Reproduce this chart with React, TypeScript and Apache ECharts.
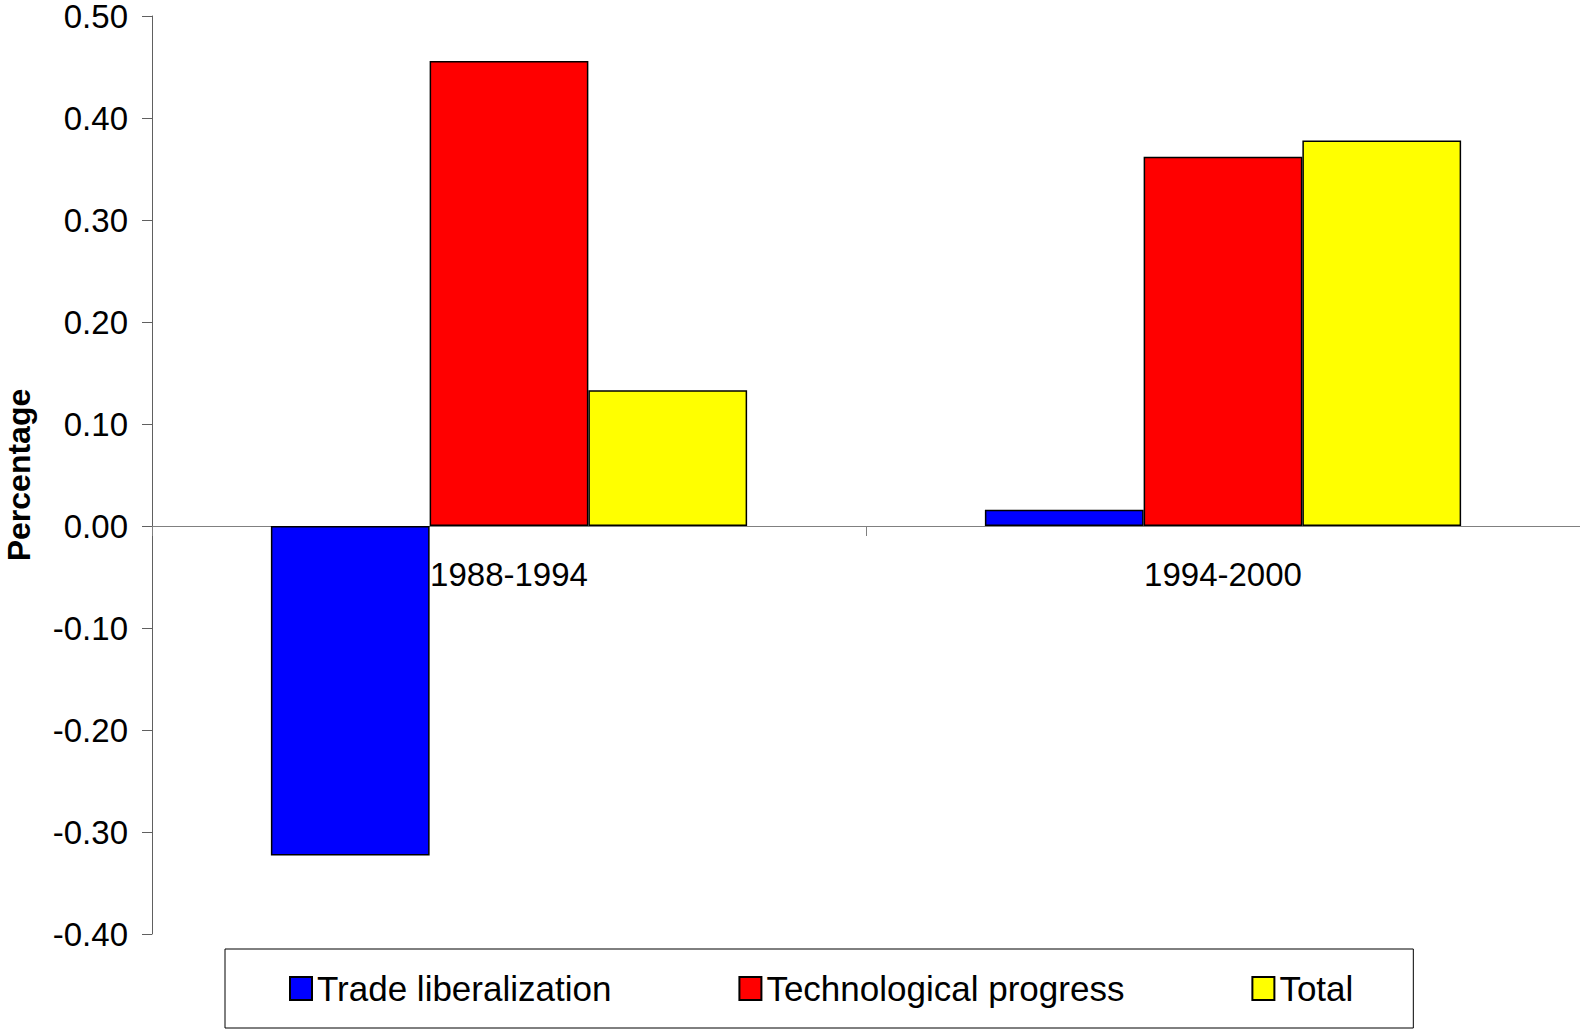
import React, { useEffect, useRef } from "react";
import * as echarts from "echarts";

const categories = ["1988-1994", "1994-2000"];
const seriesNames = ["Trade liberalization", "Technological progress", "Total"];
const tradeLib = [-0.323, 0.016];
const techProgress = [0.456, 0.362];
const total = [0.133, 0.378];
const colors = ["#0000FF", "#FF0000", "#FFFF00"];

export default function App() {
  const ref = useRef<HTMLDivElement>(null);
  useEffect(() => {
    if (!ref.current) return;
    const chart = echarts.init(ref.current, null, { renderer: "svg" });
    const values = [tradeLib, techProgress, total];
    chart.setOption({
      animation: false,
      textStyle: { fontFamily: "Liberation Sans, Arial, sans-serif", color: "#000" },
      grid: { left: 152, right: 0, top: 16, bottom: 96, containLabel: false, outerBoundsMode: "none" },
      legend: {
        data: seriesNames,
        left: 225,
        top: 949,
        padding: [22, 60, 22, 64],
        borderColor: "#000",
        borderWidth: 1,
        itemWidth: 22,
        itemHeight: 23,
        itemGap: 127,
        icon: "rect",
        textStyle: { fontSize: 35, color: "#000", fontFamily: "Liberation Sans, Arial, sans-serif" },
      },
      xAxis: {
        type: "category",
        data: categories,
        offset: -408,
        axisLine: { onZero: false, lineStyle: { color: "#808080", width: 1 } },
        axisTick: { show: true, length: 10, lineStyle: { color: "#808080" } },
        axisLabel: { fontSize: 33, color: "#000", margin: 32, interval: 0 },
        splitLine: { show: false },
      },
      yAxis: {
        type: "value",
        min: -0.4,
        max: 0.5,
        interval: 0.1,
        name: "Percentage",
        nameLocation: "middle",
        nameGap: 117,
        nameTextStyle: { fontSize: 32, fontWeight: "bold", color: "#000" },
        axisLine: { show: true, lineStyle: { color: "#606060", width: 1 } },
        axisTick: { show: true, length: 10, lineStyle: { color: "#606060" } },
        axisLabel: {
          fontSize: 33,
          color: "#000",
          margin: 24,
          formatter: (v: number) => v.toFixed(2),
        },
        splitLine: { show: false },
      },
      series: seriesNames.map((name, i) => ({
        name,
        type: "bar",
        data: values[i],
        barGap: "0%",
        barCategoryGap: "33.3%",
        itemStyle: { color: colors[i], borderColor: "#000", borderWidth: 1.5 },
      })),
    });
    return () => chart.dispose();
  }, []);
  return (
    <div
      ref={ref}
      style={{ position: "fixed", left: 0, top: 0, width: 1580, height: 1030, background: "#fff" }}
    />
  );
}
